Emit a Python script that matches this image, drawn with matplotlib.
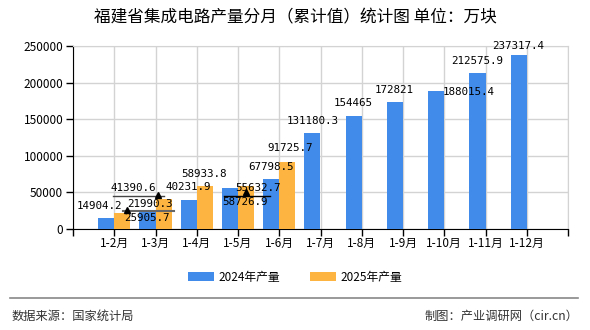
import numpy as np
import matplotlib
matplotlib.use("Agg")
import matplotlib.pyplot as plt

plt.rcParams['font.family'] = ['Noto Sans CJK SC', 'DejaVu Sans']

months = ['1-2月', '1-3月', '1-4月', '1-5月', '1-6月', '1-7月', '1-8月',
          '1-9月', '1-10月', '1-11月', '1-12月']
prod_2024 = [14904.2, 25905.7, 40231.9, 55632.7, 67798.5, 131180.3, 154465,
             172821, 188015.4, 212575.9, 237317.4]
prod_2025 = [21990.3, 41390.6, 58933.8, 58726.9, 91725.7]
labels_2024 = ['14904.2', '25905.7', '40231.9', '55632.7', '67798.5', '131180.3',
               '154465', '172821', '188015.4', '212575.9', '237317.4']
labels_2025 = ['21990.3', '41390.6', '58933.8', '58726.9', '91725.7']

# label placements (shifted by the original chart's collision avoidance)
pos_2024 = [(0.65, 31400), (1.79, 15000), (2.79, 57400), (4.49, 56000), (4.8, 84700),
            (5.82, 147500), (6.79, 172000), (7.78, 190000), (9.58, 187000),
            (9.79, 229500), (10.79, 250000)]
pos_2025 = [(1.87, 34150), (1.45, 56000), (3.18, 75100), (4.17, 36900), (5.26, 110600)]

blue = '#418BEB'
orange = '#FDB440'

fig = plt.figure(figsize=(5.9, 3.3), dpi=100)
ax = fig.add_axes([73/590, 1 - 229/330, 495/590, 183/330])

x = np.arange(1, len(months) + 1)
w = 0.39
ax.bar(x - w/2, prod_2024, width=w, color=blue, label='2024年产量', zorder=3)
ax.bar(x[:len(prod_2025)] + w/2, prod_2025, width=w, color=orange, label='2025年产量', zorder=3)

for (lx, ly), t in zip(pos_2024, labels_2024):
    ax.text(lx, ly, t, ha='center', va='center', fontsize=7.8,
            family='DejaVu Sans Mono', zorder=5)
for (lx, ly), t in zip(pos_2025, labels_2025):
    ax.text(lx, ly, t, ha='center', va='center', fontsize=7.8,
            family='DejaVu Sans Mono', zorder=5)

# leader lines from the original chart
ax.plot([0.97, 2.2], [45500, 45500], color='#444444', lw=1, zorder=4)
ax.plot([2.07], [47000], marker='^', color='black', ms=5, zorder=4)
ax.plot([1.2, 2.45], [24900, 24900], color='#666666', lw=1.5, zorder=4)
ax.plot([1.3], [25500], marker='^', color='black', ms=5, zorder=4)
ax.plot([3.66, 4.78], [45500, 45500], color='black', lw=1, zorder=4)
ax.plot([4.2], [50000], marker='^', color='black', ms=5, zorder=4)

ax.set_xlim(0, 12)
ax.set_ylim(0, 250000)
ax.set_xticks(np.arange(0, 13))
ax.set_xticklabels([''] + months + [''], fontsize=8.5)
ax.set_yticks(np.arange(0, 250001, 50000))
ax.set_yticklabels([str(v) for v in range(0, 250001, 50000)], fontsize=8.5)
ax.tick_params(axis='both', length=5, width=1, color='black', pad=2)
ax.tick_params(axis='x', pad=1)
ax.grid(True, color='#d3d3d3', lw=1, zorder=0)
ax.set_axisbelow(True)
for s in ['top', 'right']:
    ax.spines[s].set_color('#d3d3d3')
for s in ['left', 'bottom']:
    ax.spines[s].set_color('black')

fig.text(0.5, 1 - 18/330, '福建省集成电路产量分月（累计值）统计图 单位：万块',
         ha='center', va='center', fontsize=12)

ax.legend(loc='center', bbox_to_anchor=(0.5, 1 - 277/330), bbox_transform=fig.transFigure,
          ncol=2, frameon=False, fontsize=8.5, handlelength=2.2, handleheight=0.8,
          columnspacing=2.5, handletextpad=0.4)

fig.add_artist(plt.Line2D([10/590, 578/590], [1 - 298/330, 1 - 298/330],
                          color='#888888', lw=1.2))
fig.text(12/590, 1 - 316/330, '数据来源：国家统计局', ha='left', va='center',
         fontsize=8.8, color='#333333')
fig.text(578/590, 1 - 316/330, '制图：产业调研网（cir.cn）', ha='right', va='center',
         fontsize=8.8, color='#333333')

fig.savefig('out.png', dpi=100)
